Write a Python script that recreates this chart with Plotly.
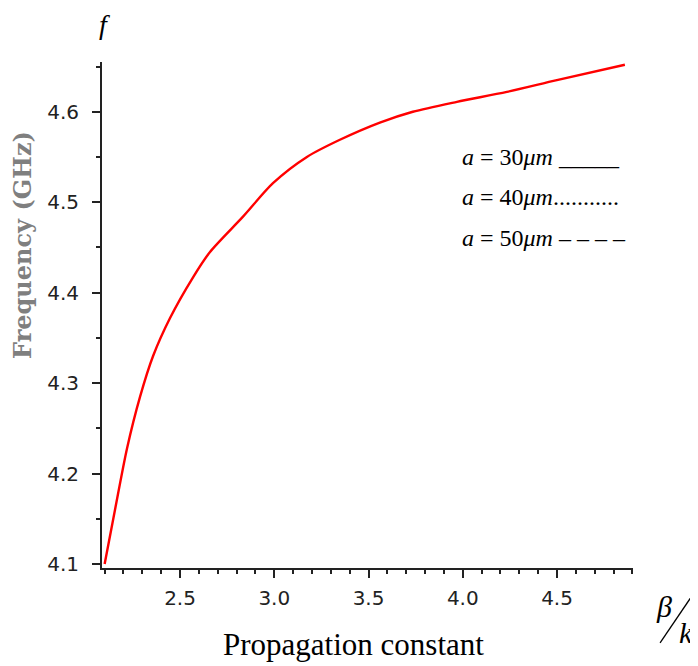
import plotly.graph_objects as go

beta_k = [2.100, 2.155, 2.219, 2.288, 2.357, 2.447, 2.569, 2.659, 2.834, 2.993,
          3.173, 3.348, 3.560, 3.735, 3.969, 4.234, 4.499, 4.860]
freq = [4.100, 4.160, 4.228, 4.285, 4.330, 4.372, 4.417, 4.445, 4.484, 4.521,
        4.550, 4.569, 4.588, 4.600, 4.611, 4.622, 4.635, 4.652]

legend_labels = ["<i>a</i> = 30<i>μm</i> _____",
                 "<i>a</i> = 40<i>μm</i>...........",
                 "<i>a</i> = 50<i>μm</i> – – – –"]

x_ticks = [2.5, 3.0, 3.5, 4.0, 4.5]
y_ticks = [4.1, 4.2, 4.3, 4.4, 4.5, 4.6]

fig = go.Figure()
fig.add_trace(go.Scatter(x=beta_k, y=freq, mode="lines", line_shape="spline",
                         line=dict(color="#ff0000", width=2.4, smoothing=0.8), showlegend=False))

tickfont = dict(family="DejaVu Sans", size=20, color="#222")
fig.update_xaxes(range=[2.086, 4.903], tickvals=x_ticks, ticktext=[f"{v:.1f}" for v in x_ticks],
                 showgrid=False, zeroline=False, showline=True, linecolor="#222", linewidth=2,
                 ticks="outside", ticklen=8, tickwidth=2, tickcolor="#222", tickfont=tickfont,
                 ticklabelstandoff=3,
                 minor=dict(dtick=0.1, tick0=2.1, ticks="outside", ticklen=4, tickwidth=2, tickcolor="#222"))
fig.update_yaxes(range=[4.0956, 4.655], tickvals=y_ticks, ticktext=[f"{v:.1f}" for v in y_ticks],
                 showgrid=False, zeroline=False, showline=True, linecolor="#222", linewidth=2,
                 ticks="outside", ticklen=8, tickwidth=2, tickcolor="#222", tickfont=tickfont,
                 ticklabelstandoff=9,
                 minor=dict(dtick=0.05, tick0=4.1, ticks="outside", ticklen=4, tickwidth=2, tickcolor="#222"))

serif = "Liberation Serif"
C = dict(xref="paper", yref="paper", showarrow=False, xanchor="center", yanchor="middle")
ann = []
ann.append(dict(text="<i>f</i>", x=0.004, y=1.074, font=dict(family=serif, size=28, color="black"), **C))
ann.append(dict(text="<b>Frequency (GHz)</b>", x=-0.151, y=0.638, textangle=-90,
                font=dict(family="DejaVu Serif", size=24, color="#7f7f7f"), **C))
ann.append(dict(text="Propagation constant", x=0.473, y=-0.152,
                font=dict(family=serif, size=31, color="black"), **C))
ann.append(dict(text="<i>β</i>", x=1.058, y=-0.077, font=dict(family=serif, size=30, color="black"), **C))
ann.append(dict(text="<i>k</i>", x=1.100, y=-0.128, font=dict(family=serif, size=30, color="black"), **C))
for lab, yy in zip(legend_labels, [0.812, 0.733, 0.652]):
    ann.append(dict(text=lab, x=0.674, y=yy, xref="paper", yref="paper", xanchor="left", yanchor="middle",
                    showarrow=False, font=dict(family=serif, size=24, color="black")))

fig.update_layout(width=690, height=658, margin=dict(l=94, r=65, t=54, b=98),
                  plot_bgcolor="white", paper_bgcolor="white", annotations=ann,
                  shapes=[dict(type="line", xref="paper", yref="paper", x0=1.122, y0=-0.038,
                               x1=1.051, y1=-0.148, line=dict(color="black", width=1.3))])

fig.write_html("out.html")
